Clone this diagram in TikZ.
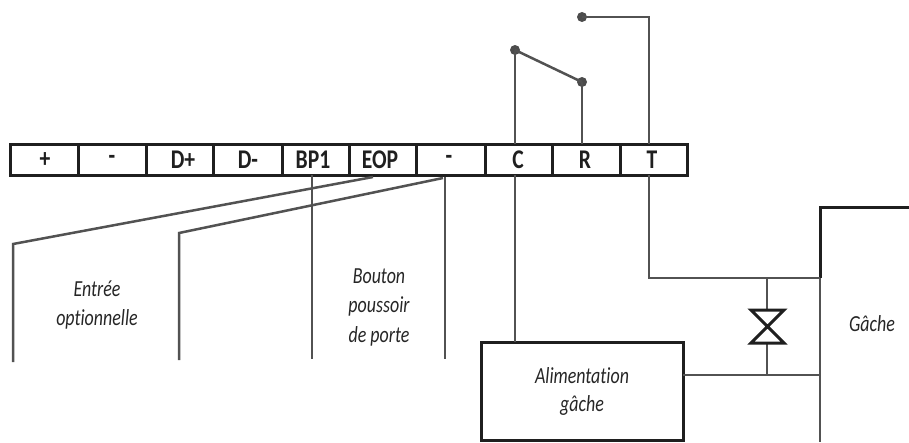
\documentclass[tikz,border=0pt]{standalone}
\usepackage{fontspec}
\setmainfont{Carlito}
\newfontfamily\cellfont[FakeStretch=0.8]{Carlito}
\newfontfamily\labelfont[FakeStretch=0.78,Ligatures=NoCommon]{Carlito}
\begin{document}
\begin{tikzpicture}[x=1pt,y=-1pt,
  wire/.style={draw=black!68,line width=2.5pt},
  thick box/.style={draw=black!88,line width=3pt},
  cell/.style={font=\cellfont\fontsize{27}{29}\selectfont\bfseries,text=black!88,anchor=center,inner sep=0pt},
  label/.style={font=\labelfont\fontsize{23}{30}\selectfont\itshape,text=black!85,align=center,inner sep=0pt},
  dot/.style={circle,fill=black!70,inner sep=0pt,minimum size=10pt}]
\useasboundingbox (0,0) rectangle (909,442);
% terminal strip
\draw[thick box] (10,144) rectangle (687,175);
\foreach \x in {78,146,213,282,349,416,485,552,620}
  \draw[thick box] (\x,144) -- (\x,175);
\node[cell] (c1) at (45,160) {+};
\node[cell] (c2) at (112,160) {-};
\node[cell] (c3) at (183,160) {D+};
\node[cell] (c4) at (248,160) {D-};
\node[cell] (c5) at (313,160) {BP1};
\node[cell] (c6) at (380,160) {EOP};
\node[cell] (c7) at (449,160) {-};
\node[cell] (c8) at (518,160) {C};
\node[cell] (c9) at (585,160) {R};
\node[cell] (c10) at (652,160) {T};
% relay contacts
\node[dot] (dc) at (515,50) {};
\node[dot] (dr) at (582,82) {};
\node[dot] (dt) at (582,17) {};
\coordinate (ct) at (515,144);
\coordinate (rt) at (582,144);
\coordinate (tt) at (649,144);
\coordinate (cb) at (515,175);
\coordinate (tb) at (649,175);
\draw[wire] (ct) -- (dc.center);
\draw[wire] (rt) -- (dr.center);
\draw[wire] (dc.center) -- (dr.center);
\draw[wire] (dt.center) -| (tt);
% left wires
\coordinate (w1a) at (373,177);
\coordinate (w1b) at (13,244);
\coordinate (w1c) at (13,362);
\coordinate (w2a) at (443,178);
\coordinate (w2b) at (179,233);
\coordinate (w2c) at (179,360);
\coordinate (w3a) at (312,175);
\coordinate (w3b) at (312,359);
\coordinate (w4a) at (445,177);
\coordinate (w4b) at (445,359);
\draw[wire] (w1a) -- (w1b) -- (w1c);
\draw[wire] (w2a) -- (w2b) -- (w2c);
\draw[wire] (w3a) -- (w3b);
\draw[wire] (w4a) -- (w4b);
\node[label] (l1) at (97,289) {Entrée};
\node[label] (l2) at (97,319) {optionnelle};
\node[label] (l3) at (379,276) {Bouton};
\node[label] (l4) at (379,306) {poussoir};
\node[label] (l5) at (379,336) {de porte};
% alimentation
\node[thick box,minimum width=202pt,minimum height=98pt,inner sep=0pt] (alim) at (582,391) {};
\node[label] (l6) at (582,376) {Alimentation};
\node[label] (l7) at (582,405) {gâche};
% gache
\coordinate (g0) at (820,442);
\coordinate (g1) at (820,207);
\coordinate (g2) at (909,207);
\coordinate (gt) at (820,278);
\coordinate (gb) at (820,375);
\coordinate (jt) at (767,278);
\coordinate (jb) at (767,375);
\coordinate (at) at (515,342);
\coordinate (ar) at (683,375);
\draw[thick box] (gt) -- (g1) -- (g2);
\draw[wire] (gt) -- (g0);
\node[label] (l8) at (872,324) {Gâche};
\draw[wire] (cb) -- (at);
\draw[wire] (tb) |- (gt);
\draw[wire] (ar) -- (gb);
% bowtie
\coordinate (b1) at (751,310);
\coordinate (b2) at (784,310);
\coordinate (b3) at (751,343);
\coordinate (b4) at (784,343);
\coordinate (bt) at (767,310);
\coordinate (bb) at (767,343);
\draw[wire] (jt) -- (bt);
\draw[wire] (bb) -- (jb);
\draw[thick box,line join=miter] (b1) -- (b2) -- (b3) -- (b4) -- cycle;
\end{tikzpicture}
\end{document}
